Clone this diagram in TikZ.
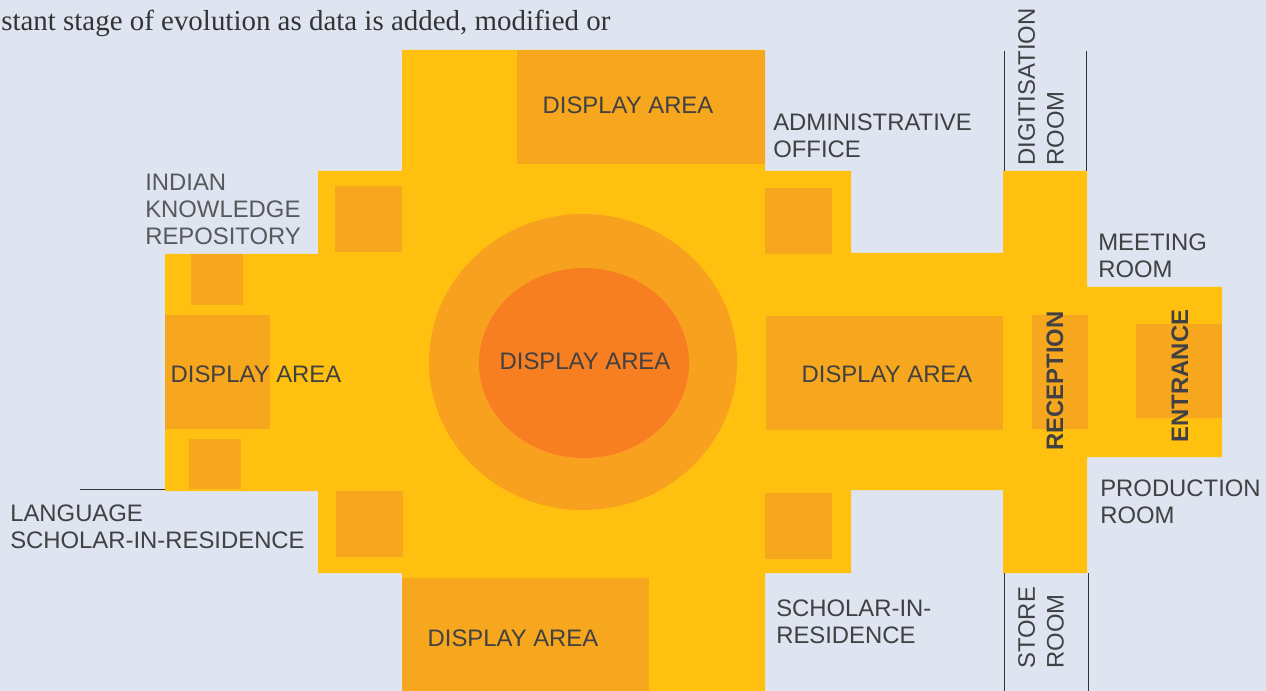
\documentclass[tikz,border=0pt]{standalone}
\usepackage{fontspec}
\setmainfont{Liberation Sans}
\newfontfamily\bodyfont{Liberation Serif}
\definecolor{pagebg}{HTML}{DEE4F0}
\definecolor{floorcol}{HTML}{FFC010}
\definecolor{patchcol}{HTML}{F6A71E}
\definecolor{ringcol}{HTML}{F8A11E}
\definecolor{corecol}{HTML}{F77F21}
\definecolor{labelcol}{HTML}{414042}
\definecolor{softcol}{HTML}{58595B}
\tikzset{
  roomlabel/.style={text=labelcol,font=\fontsize{17.9}{20.25}\selectfont,align=left,inner sep=0pt,anchor=north west},
  arealabel/.style={text=labelcol,font=\fontsize{17.9}{20.25}\selectfont,inner sep=0pt},
  sidelabel/.style={roomlabel,font=\fontsize{17.9}{21.5}\selectfont,rotate=90,anchor=north west},
  boldlabel/.style={arealabel,font=\fontsize{17.9}{20.25}\selectfont\bfseries,rotate=90},
  wall/.style={draw=black!80,line width=0.75pt}
}
\begin{document}
\begin{tikzpicture}[x=0.75pt,y=-0.75pt]
  \useasboundingbox[fill=pagebg] (0,0) rectangle (1266,691);
  \fill[floorcol] (402,50) -- (765,50) -- (765,171) -- (851,171) -- (851,253) -- (1003,253)
    -- (1003,171) -- (1087,171) -- (1087,287) -- (1222,287) -- (1222,457) -- (1087,457)
    -- (1087,573) -- (1003,573) -- (1003,490) -- (851,490) -- (851,573) -- (765,573)
    -- (765,691) -- (402,691) -- (402,573) -- (318,573) -- (318,491) -- (165,491)
    -- (165,254) -- (318,254) -- (318,171) -- (402,171) -- cycle;
  \foreach \xa/\ya/\xb/\yb in {517/50/765/164,335/186/402/252,765/188/832/254,191/254/243/305,
      165/315/270/429,189/439/241/489,336/491/403/557,765/493/832/559,766/316/1003/430,
      1032/315/1088/429,1136/324/1222/418,402/578/649/691} {
    \fill[patchcol] (\xa,\ya) rectangle (\xb,\yb);
  }
  \fill[ringcol] (583,362) ellipse [x radius=115.5pt,y radius=111pt];
  \fill[corecol] (584,363) ellipse [x radius=78.75pt,y radius=71.25pt];
  % leader lines
  \coordinate (langa) at (80,489);
  \coordinate (langb) at (165,489);
  \draw[wall] (langa) -- (langb);
  \foreach \x in {1004,1086} {
    \draw[wall] (\x,51) -- (\x,171);
  }
  \foreach \x in {1004,1088} {
    \draw[wall] (\x,573) -- (\x,691);
  }
  % text above the plan
  \node[anchor=base west,inner sep=0pt,text=labelcol!80!black,font=\bodyfont\fontsize{21.7}{24}\selectfont] (bodytext) at (1,31) {stant stage of evolution as data is added, modified or};
  % areas
  \node[arealabel] (areatop) at (628,105) {DISPLAY AREA};
  \node[arealabel] (arealeft) at (256,374) {DISPLAY AREA};
  \node[arealabel] (areacore) at (585,361) {DISPLAY AREA};
  \node[arealabel] (arearight) at (887,374) {DISPLAY AREA};
  \node[arealabel] (areabottom) at (513,638) {DISPLAY AREA};
  \node[boldlabel] (reception) at (1055,381) {RECEPTION};
  \node[boldlabel] (entrance) at (1180,376) {ENTRANCE};
  % rooms
  \node[roomlabel] (admin) at (773,114) {ADMINISTRATIVE\\OFFICE};
  \node[roomlabel,text=softcol] (repository) at (145,174) {INDIAN\\KNOWLEDGE\\REPOSITORY};
  \node[roomlabel] (meeting) at (1098,234) {MEETING\\ROOM};
  \node[roomlabel] (production) at (1100,480) {PRODUCTION\\ROOM};
  \node[roomlabel] (language) at (10,505) {LANGUAGE\\SCHOLAR-IN-RESIDENCE};
  \node[roomlabel] (scholar) at (776,600) {SCHOLAR-IN-\\RESIDENCE};
  \node[sidelabel] (digitisation) at (1018,166) {DIGITISATION\\ROOM};
  \node[sidelabel] (store) at (1018,669) {STORE\\ROOM};
\end{tikzpicture}
\end{document}
